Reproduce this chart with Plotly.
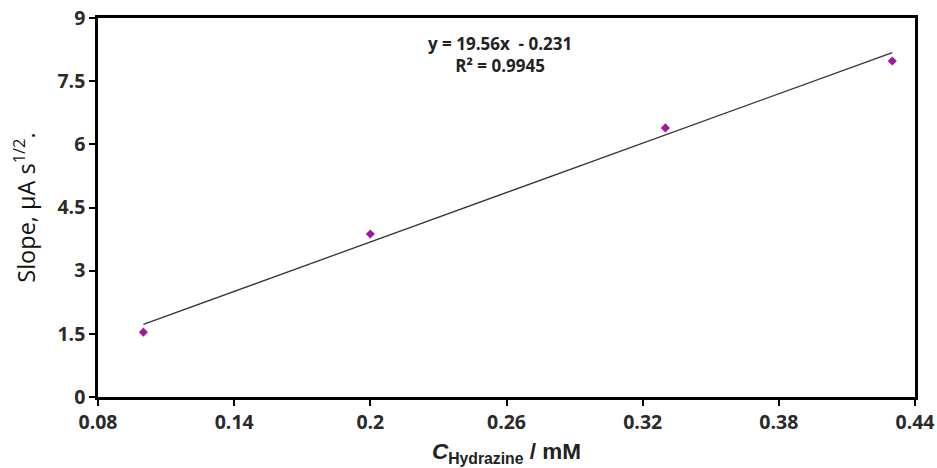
import plotly.graph_objects as go

# Data
conc_mM = [0.10, 0.20, 0.33, 0.43]
slope_vals = [1.54, 3.87, 6.39, 7.98]

fit_slope = 19.56
fit_intercept = -0.231
fit_x = [0.10, 0.43]

x_ticks = [0.08, 0.14, 0.2, 0.26, 0.32, 0.38, 0.44]
x_tick_text = ["0.08", "0.14", "0.2", "0.26", "0.32", "0.38", "0.44"]
y_ticks = [0, 1.5, 3, 4.5, 6, 7.5, 9]
y_tick_text = ["0", "1.5", "3", "4.5", "6", "7.5", "9"]

fit_y = [fit_slope * x + fit_intercept for x in fit_x]

tick_font = dict(family="Open Sans, sans-serif", size=19.5, color="#2a2a2a", weight="bold")

fig = go.Figure()
fig.add_trace(go.Scatter(
    x=fit_x, y=fit_y, mode="lines",
    line=dict(color="#333333", width=1.3),
    showlegend=False, hoverinfo="skip"))
fig.add_trace(go.Scatter(
    x=conc_mM, y=slope_vals, mode="markers",
    marker=dict(symbol="diamond", size=7, color="#a3179f"),
    showlegend=False))

fig.add_annotation(
    xref="paper", yref="paper", x=0.492, y=0.905, yanchor="middle",
    text="y = 19.56x  - 0.231<br>R² = 0.9945",
    showarrow=False, align="center",
    font=dict(family="Open Sans, sans-serif", size=17, color="#222222", weight="bold"))

fig.update_layout(
    width=937, height=468,
    margin=dict(l=98, r=22, t=18, b=71),
    plot_bgcolor="white", paper_bgcolor="white",
    xaxis=dict(
        range=[0.08, 0.44], tickvals=x_ticks, ticktext=x_tick_text,
        showgrid=False, zeroline=False, automargin=False,
        showline=True, linecolor="black", linewidth=2.5, mirror=True,
        ticks="outside", ticklen=6, tickwidth=1.5, tickcolor="black",
        tickfont=tick_font,
        title=dict(
            text="<i>C</i><sub>Hydrazine</sub> / mM",
            font=dict(family="Liberation Sans, Arial, sans-serif", size=22.5, color="#222222", weight="bold"),
            standoff=10),
    ),
    yaxis=dict(
        range=[0, 9], tickvals=y_ticks, ticktext=y_tick_text,
        showgrid=False, zeroline=False, automargin=False,
        showline=True, linecolor="black", linewidth=2.5, mirror=True,
        ticks="outside", ticklen=6, tickwidth=1.5, tickcolor="black",
        tickfont=tick_font,
        title=dict(
            text="Slope, μA s<sup>1/2</sup>.",
            font=dict(family="Open Sans, sans-serif", size=23.5, color="#111111"),
            standoff=16),
    ),
)

fig.write_html("out.html")
